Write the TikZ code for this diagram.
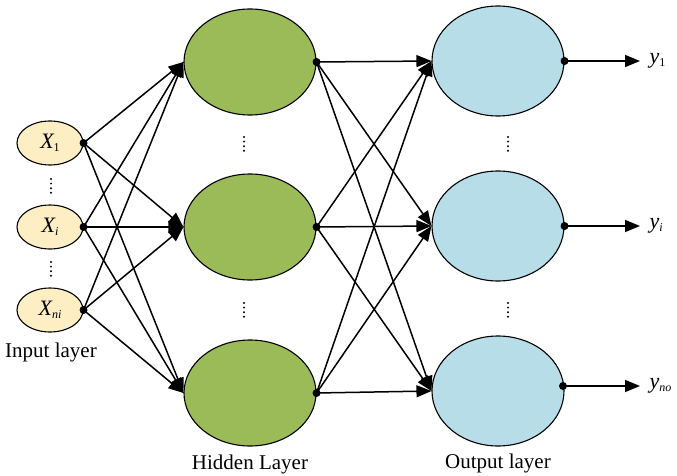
\documentclass[tikz,border=0pt]{standalone}
\usepackage{fontspec}
\setmainfont{Liberation Serif}
\usetikzlibrary{shapes.geometric,arrows.meta}
\definecolor{inyel}{RGB}{253,238,196}
\definecolor{hidgreen}{RGB}{155,187,89}
\definecolor{outblue}{RGB}{183,221,232}
\newcommand\sublbl[2]{{\fontsize{22}{22}\selectfont\itshape #1}\raisebox{-0.6ex}{\fontsize{12}{12}\selectfont #2}}
\begin{document}
\begin{tikzpicture}[x=1pt,y=-1pt,
  inpnode/.style={ellipse,draw=black,line width=1.1pt,fill=inyel,minimum width=66pt,minimum height=44pt,inner sep=0pt},
  hidnode/.style={ellipse,draw=black,line width=1.1pt,fill=hidgreen,minimum width=132pt,minimum height=106pt},
  outnode/.style={ellipse,draw=black,line width=1.1pt,fill=outblue,minimum width=132pt,minimum height=110pt},
  conn/.style={line width=1.5pt,-{Triangle[length=15pt,width=12pt]}},
  layerlbl/.style={font=\fontsize{21}{23}\selectfont},
  vdotmark/.style={fill=black}
]
\useasboundingbox (0,0) rectangle (677,476);
% input
\node[inpnode] (in1) at (50,143) {\sublbl{X}{1}};
\node[inpnode] (in2) at (50,227) {\sublbl{X}{\itshape i}};
\node[inpnode] (in3) at (50,310) {\sublbl{X}{\itshape ni}};
% hidden
\node[hidnode] (h1) at (250,62) {};
\node[hidnode] (h2) at (250,227) {};
\node[hidnode] (h3) at (250,393) {};
% output
\node[outnode] (o1) at (498,61) {};
\node[outnode] (o2) at (498,226) {};
\node[outnode] (o3) at (498,391) {};
% vertical dots
\foreach \x/\y in {51/179, 51/262, 244/137, 244/303, 508/137, 508/303}{
  \foreach \k in {0,1,2,3}{
    \fill[vdotmark] (\x,\y+\k*4.6) circle (1.1pt);
  }
}
% connections
\foreach \a in {in1,in2,in3}{
  \foreach \b in {h1,h2,h3}{
    \draw[conn] (\a.east) -- (\b.west);
  }
}
\foreach \a in {h1,h2,h3}{
  \foreach \b in {o1,o2,o3}{
    \draw[conn] (\a.east) -- (\b.west);
  }
}
% outputs
\coordinate (e1) at (640,61);
\coordinate (e2) at (640,226);
\coordinate (e3) at (640,386);
\coordinate (s3) at (563,386);
\draw[conn] (o1.east) -- (e1);
\draw[conn] (o2.east) -- (e2);
\draw[conn] (s3) -- (e3);
\node[anchor=west] (y1) at (646,61) {\sublbl{y}{1}};
\node[anchor=west] (y2) at (646,226) {\sublbl{y}{\itshape i}};
\node[anchor=west] (y3) at (646,386) {\sublbl{y}{\itshape no}};
% dots
\foreach \a in {in1,in2,in3,h1,h2,h3,o1,o2}{
  \fill (\a.east) circle (4pt);
}
\fill (s3) circle (4pt);
% labels
\node[layerlbl] (l1) at (51,352) {Input layer};
\node[layerlbl] (l2) at (250,464) {Hidden Layer};
\node[layerlbl] (l3) at (498,463) {Output layer};
\end{tikzpicture}
\end{document}
